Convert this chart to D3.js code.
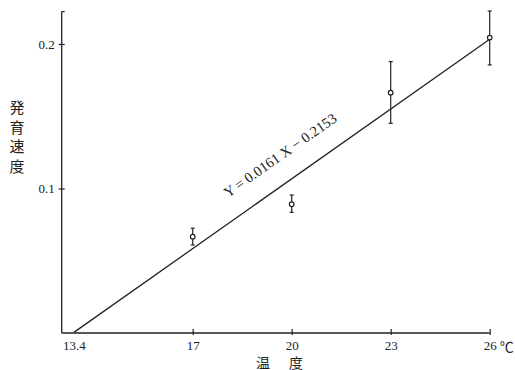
<!DOCTYPE html>
<html>
<head>
<meta charset="utf-8">
<script src="https://cdn.jsdelivr.net/npm/d3@7"></script>
<style>
  body { margin: 0; background: #fff; }
  svg { display: block; }
</style>
</head>
<body>
<svg id="chart" width="515" height="370"></svg>
<script>
// data
const temps = [17, 20, 23, 26];
const rates = [0.0666, 0.0891, 0.1663, 0.2044];
const rateHigh = [0.0725, 0.0955, 0.1878, 0.2228];
const rateLow = [0.0609, 0.0835, 0.1451, 0.1855];
const xTicks = [13.4, 17, 20, 23, 26];
const yTicks = [0.1, 0.2];
const slope = 0.0161;
const intercept = -0.2153;
const lineFrom = 13.4;
const lineTo = 26;

const svg = d3.select("#chart");
const ink = "#222";
const serif = "'Liberation Serif', 'DejaVu Serif', serif";
const cjk = "'Noto Sans CJK JP', sans-serif";

const x = d3.scaleLinear().domain([13.03, 26]).range([61.7, 489.7]);
const y = d3.scaleLinear().domain([0, 0.2224]).range([333, 11.6]);

// x axis
const xAxis = svg.append("g")
  .attr("transform", `translate(0,${y(0)})`)
  .call(d3.axisBottom(x).tickValues(xTicks).tickSizeInner(-4).tickSizeOuter(0)
    .tickFormat(d3.format("")));
xAxis.select(".domain").remove();
xAxis.selectAll(".tick line").attr("stroke", ink).attr("stroke-width", 1.2)
  .attr("y2", -4).attr("y1", 2);
xAxis.selectAll(".tick").filter(d => d === 13.4).select("line").remove();
xAxis.selectAll(".tick text")
  .attr("y", 8)
  .attr("fill", ink)
  .style("font-family", serif)
  .style("font-size", "13px");
svg.append("line")
  .attr("x1", x.range()[0]).attr("x2", x(26))
  .attr("y1", y(0)).attr("y2", y(0))
  .attr("stroke", ink).attr("stroke-width", 1.4);

// degree sign after 26
svg.append("text")
  .attr("x", x(26) + 10)
  .attr("y", y(0) + 19)
  .attr("fill", ink)
  .style("font-family", cjk)
  .style("font-size", "14px")
  .text("℃");

// y axis
const yAxis = svg.append("g")
  .attr("transform", `translate(${x.range()[0]},0)`)
  .call(d3.axisLeft(y).tickValues(yTicks).tickSizeInner(3).tickSizeOuter(0)
    .tickFormat(d3.format(".1f")));
yAxis.select(".domain").remove();
yAxis.selectAll(".tick line").attr("stroke", ink).attr("stroke-width", 1.2)
  .attr("x1", 3);
yAxis.selectAll(".tick text")
  .attr("x", -7)
  .attr("fill", ink)
  .style("font-family", serif)
  .style("font-size", "13px");
svg.append("line")
  .attr("x1", x.range()[0]).attr("x2", x.range()[0])
  .attr("y1", y.range()[1]).attr("y2", y(0))
  .attr("stroke", ink).attr("stroke-width", 1.3);
svg.append("line")
  .attr("x1", x.range()[0]).attr("x2", x.range()[0] + 3)
  .attr("y1", y.range()[1]).attr("y2", y.range()[1])
  .attr("stroke", ink).attr("stroke-width", 1.2);

// axis titles
const xTitle = ["温", "度"];
svg.selectAll(".xtitle").data(xTitle).join("text")
  .attr("x", (d, i) => 263 + i * 33)
  .attr("y", 367.5)
  .attr("text-anchor", "middle")
  .attr("fill", ink)
  .style("font-family", cjk)
  .style("font-size", "14px")
  .text(d => d);

const yTitle = svg.append("text")
  .attr("fill", ink)
  .style("font-family", cjk)
  .style("font-size", "15px")
  .attr("text-anchor", "middle");
"発育速度".split("").forEach((c, i) => {
  yTitle.append("tspan").attr("x", 17).attr("y", 113 + i * 19.5).text(c);
});

// regression line
const fit = t => slope * t + intercept;
svg.append("line")
  .attr("x1", x(lineFrom)).attr("y1", y(fit(lineFrom)))
  .attr("x2", x(lineTo)).attr("y2", y(fit(lineTo)))
  .attr("stroke", ink).attr("stroke-width", 1.3);

const angle = Math.atan2(y(fit(lineFrom)) - y(fit(lineTo)), x(lineTo) - x(lineFrom)) * 180 / Math.PI;
const labelAt = 20.1;
svg.append("text")
  .attr("transform", `translate(${x(labelAt)},${y(fit(labelAt))}) rotate(${-angle})`)
  .attr("y", -21)
  .attr("text-anchor", "middle")
  .attr("fill", ink)
  .style("font-family", serif)
  .style("font-size", "14.5px")
  .text("Y = 0.0161 X − 0.2153");

// error bars and points
const pts = temps.map((t, i) => ({ t, v: rates[i], hi: rateHigh[i], lo: rateLow[i] }));
const g = svg.append("g").attr("stroke", ink).attr("stroke-width", 1.2);
g.selectAll(".bar").data(pts).join("line")
  .attr("x1", d => x(d.t)).attr("x2", d => x(d.t))
  .attr("y1", d => y(d.hi)).attr("y2", d => y(d.lo));
g.selectAll(".capTop").data(pts).join("line")
  .attr("x1", d => x(d.t) - 2).attr("x2", d => x(d.t) + 2)
  .attr("y1", d => y(d.hi)).attr("y2", d => y(d.hi));
g.selectAll(".capBot").data(pts).join("line")
  .attr("x1", d => x(d.t) - 2).attr("x2", d => x(d.t) + 2)
  .attr("y1", d => y(d.lo)).attr("y2", d => y(d.lo));
g.selectAll("circle").data(pts).join("circle")
  .attr("cx", d => x(d.t)).attr("cy", d => y(d.v))
  .attr("r", 2.3)
  .attr("fill", "#fff");
</script>
</body>
</html>
